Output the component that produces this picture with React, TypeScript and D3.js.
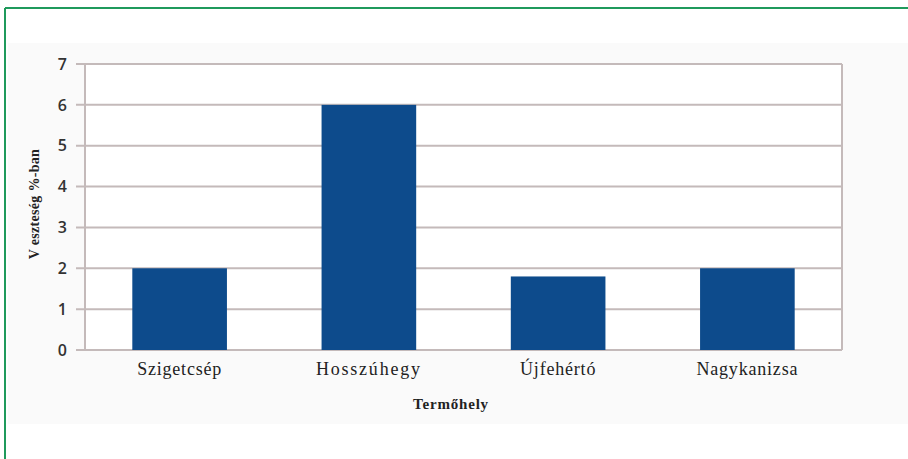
import React from "react";
import * as d3 from "d3";

const categories = ["Szigetcsép", "Hosszúhegy", "Újfehértó", "Nagykanizsa"];
const values = [2, 6, 1.8, 2];
const yTicks = [0, 1, 2, 3, 4, 5, 6, 7];

const W = 908, H = 459;
const plot = { left: 85, right: 842, top: 64, bottom: 350 };

export default function App() {
  const x = d3.scaleBand<string>().domain(categories).range([plot.left, plot.right]).paddingInner(0.5).paddingOuter(0.25);
  const y = d3.scaleLinear().domain([0, 7]).range([plot.bottom, plot.top]);
  return (
    <svg width={W} height={H} style={{ position: "absolute", left: 0, top: 0 }}>
      <rect x={0} y={0} width={W} height={H} fill="#fff" />
      <rect x={8} y={43} width={W - 8} height={381} fill="#fafafa" />
      <line x1={5} y1={8} x2={W} y2={8} stroke="#1f9a5c" strokeWidth={2} />
      <line x1={5} y1={8} x2={5} y2={H} stroke="#1f9a5c" strokeWidth={2} />
      <rect x={plot.left} y={plot.top} width={plot.right - plot.left} height={plot.bottom - plot.top} fill="#fff" />
      {yTicks.map((t) => (
        <g key={t}>
          <line x1={76} x2={plot.right} y1={y(t)} y2={y(t)} stroke="#c4baba" strokeWidth={2} />
          <text x={67} y={y(t)} dy="0.36em" textAnchor="end" fontFamily="'Open Sans', sans-serif" fontWeight={600} fontSize={16} fill="#333">{t}</text>
        </g>
      ))}
      <line x1={plot.left} x2={plot.left} y1={plot.top} y2={plot.bottom} stroke="#c4baba" strokeWidth={2} />
      <line x1={plot.right} x2={plot.right} y1={plot.top} y2={plot.bottom} stroke="#c4baba" strokeWidth={2} />
      {categories.map((c, i) => (
        <g key={c}>
          <rect x={x(c)} y={y(values[i])} width={x.bandwidth()} height={y(0) - y(values[i])} fill="#0d4b8c" />
          <text x={(x(c) as number) + x.bandwidth() / 2} y={375} textAnchor="middle" fontFamily="'Liberation Serif', serif" fontSize={18} letterSpacing={c === "Hosszúhegy" ? 1.8 : 0.8} fill="#222">{c}</text>
        </g>
      ))}
      <text x={451} y={409} textAnchor="middle" fontFamily="'Liberation Serif', serif" fontWeight="bold" fontSize={15} letterSpacing={0.8} fill="#222">Termőhely</text>
      <text transform={`translate(39,204) rotate(-90)`} textAnchor="middle" fontFamily="'Liberation Serif', serif" fontWeight="bold" fontSize={14} letterSpacing={0.3} fill="#222">V eszteség %-ban</text>
    </svg>
  );
}
